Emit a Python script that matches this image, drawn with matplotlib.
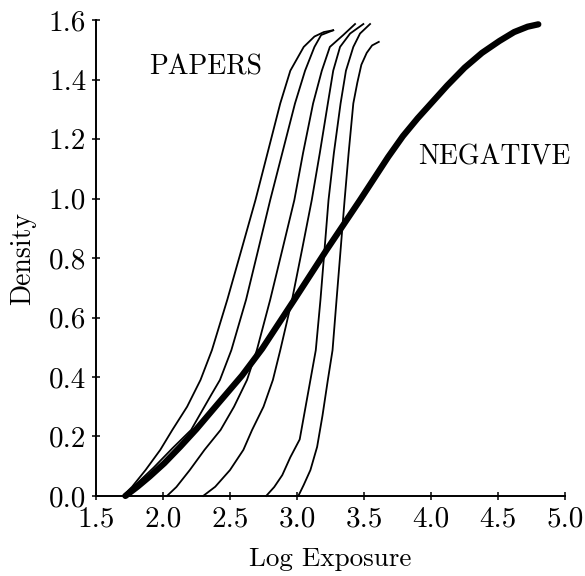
import matplotlib
matplotlib.use("Agg")
import matplotlib.pyplot as plt

# negative (thick curve)
neg_x = [1.72, 1.81, 1.90, 2.01, 2.13, 2.25, 2.41, 2.59, 2.74, 2.98, 3.22, 3.47, 3.68, 3.79,
         3.90, 4.00, 4.12, 4.25, 4.38, 4.51, 4.62, 4.72, 4.80]
neg_d = [0.0, 0.031, 0.065, 0.11, 0.166, 0.225, 0.31, 0.405, 0.495, 0.66, 0.827, 0.995, 1.14, 1.21,
         1.27, 1.32, 1.38, 1.44, 1.49, 1.53, 1.56, 1.578, 1.586]

# papers (thin curves)
a_x = [1.70, 1.77, 1.87, 1.98, 2.07, 2.18, 2.28, 2.365, 2.48, 2.585, 2.69, 2.78, 2.875, 2.95, 3.05, 3.13, 3.20, 3.27]
a_d = [0.0, 0.031, 0.087, 0.155, 0.222, 0.30, 0.39, 0.49, 0.66, 0.827, 0.995, 1.153, 1.32, 1.43, 1.51, 1.545, 1.56, 1.566]

b_x = [1.72, 1.79, 1.93, 2.07, 2.21, 2.29, 2.36, 2.425, 2.51, 2.62, 2.71, 2.80, 2.89, 2.985, 3.06, 3.13, 3.18, 3.27]
b_d = [0.0, 0.035, 0.095, 0.16, 0.222, 0.285, 0.34, 0.39, 0.49, 0.66, 0.827, 0.995, 1.153, 1.32, 1.43, 1.51, 1.55, 1.566]

c_x = [2.03, 2.10, 2.20, 2.31, 2.43, 2.53, 2.627, 2.70, 2.80, 2.89, 2.98, 3.045, 3.12, 3.185, 3.245, 3.345, 3.433]
c_d = [0.0, 0.03, 0.087, 0.155, 0.222, 0.30, 0.39, 0.49, 0.66, 0.827, 0.995, 1.153, 1.32, 1.43, 1.51, 1.55, 1.587]

d_x = [2.30, 2.39, 2.50, 2.60, 2.665, 2.75, 2.82, 2.875, 2.963, 3.037, 3.11, 3.17, 3.23, 3.27, 3.321, 3.396, 3.495]
d_d = [0.0, 0.031, 0.087, 0.155, 0.222, 0.30, 0.39, 0.49, 0.66, 0.827, 0.995, 1.153, 1.32, 1.43, 1.51, 1.555, 1.587]

e_x = [2.77, 2.83, 2.89, 2.95, 3.02, 3.06, 3.10, 3.14, 3.175, 3.205, 3.235, 3.275, 3.325, 3.365, 3.42, 3.47, 3.545]
e_d = [0.0, 0.03, 0.07, 0.13, 0.19, 0.29, 0.39, 0.49, 0.66, 0.827, 0.995, 1.153, 1.32, 1.43, 1.51, 1.555, 1.587]

f_x = [3.01, 3.05, 3.10, 3.15, 3.19, 3.23, 3.265, 3.295, 3.325, 3.355, 3.385, 3.42, 3.45, 3.48, 3.52, 3.56, 3.61]
f_d = [0.0, 0.037, 0.087, 0.165, 0.27, 0.39, 0.49, 0.66, 0.827, 0.995, 1.153, 1.32, 1.39, 1.45, 1.49, 1.515, 1.527]

xticks = [1.5, 2.0, 2.5, 3.0, 3.5, 4.0, 4.5, 5.0]
yticks = [0.0, 0.2, 0.4, 0.6, 0.8, 1.0, 1.2, 1.4, 1.6]

plt.rcParams["font.family"] = "cmr10"
plt.rcParams["mathtext.fontset"] = "cm"
plt.rcParams["axes.formatter.use_mathtext"] = True

fig = plt.figure(figsize=(5.85, 5.76), dpi=100)
ax = fig.add_axes([0.164, 0.139, 0.802, 0.826])

papers = [(a_x, a_d), (b_x, b_d), (c_x, c_d), (d_x, d_d), (e_x, e_d), (f_x, f_d)]
for xs, ds in papers:
    ax.plot(xs, ds, color="black", lw=1.3, clip_on=False)

ax.plot(neg_x, neg_d, color="black", lw=4.5, solid_capstyle="round",
        solid_joinstyle="round", clip_on=False)

ax.text(1.90, 1.44, "PAPERS", fontsize=20, va="center", ha="left")
ax.text(3.90, 1.14, "NEGATIVE", fontsize=20, va="center", ha="left")

ax.set_xlim(1.5, 5.0)
ax.set_ylim(0, 1.6)
ax.set_xticks(xticks, ["%.1f" % v for v in xticks])
ax.set_yticks(yticks, ["%.1f" % v for v in yticks])
ax.tick_params(direction="inout", length=6, width=1.1, labelsize=21, pad=4)
ax.spines["top"].set_visible(False)
ax.spines["right"].set_visible(False)
ax.spines["left"].set_linewidth(1.4)
ax.spines["bottom"].set_linewidth(1.4)
ax.set_xlabel("Log Exposure", fontsize=19.5, labelpad=11)
ax.set_ylabel("Density", fontsize=20, labelpad=9)

fig.savefig("out.png", dpi=100)
